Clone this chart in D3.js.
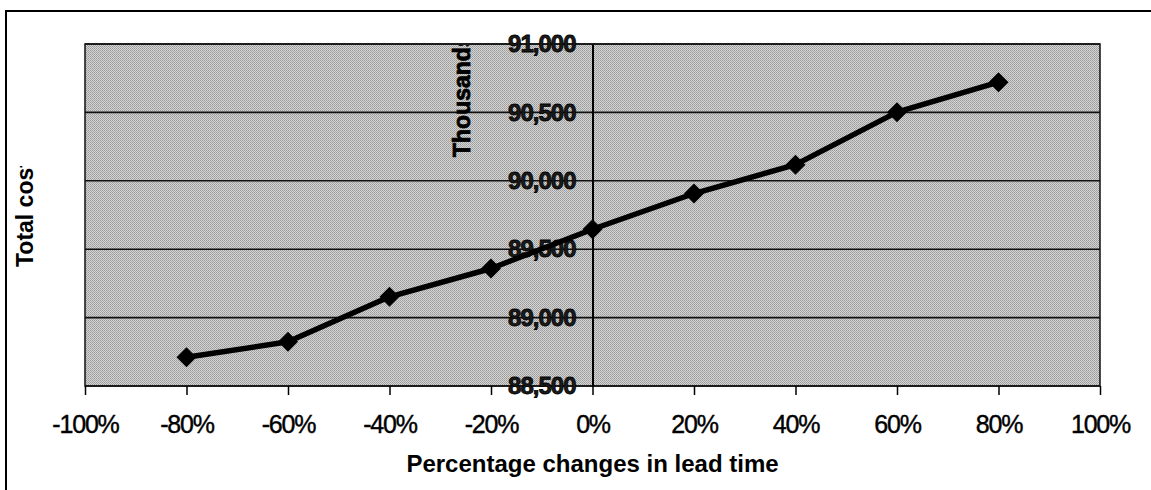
<!DOCTYPE html>
<html>
<head>
<meta charset="utf-8">
<script src="https://cdn.jsdelivr.net/npm/d3@7"></script>
<style>
  html, body { margin: 0; padding: 0; background: #fff; }
  text { font-family: "Liberation Sans", Arial, sans-serif; }
</style>
</head>
<body>
<svg id="chart" width="1151" height="490"></svg>
<script>
// lead time change (%) vs total cost (thousands)
const leadChange = [-80, -60, -40, -20, 0, 20, 40, 60, 80];
const totalCost = [88710, 88823, 89152, 89359, 89646, 89907, 90118, 90502, 90721];
const xTicks = [-100, -80, -60, -40, -20, 0, 20, 40, 60, 80, 100];
const yTicks = [88500, 89000, 89500, 90000, 90500, 91000];

const svg = d3.select('#chart');
const plot = { left: 85, right: 1100, top: 44, bottom: 386 };

const xScale = d3.scaleLinear().domain([-100, 100]).range([plot.left, plot.right]);
const yScale = d3.scaleLinear().domain([88500, 91000]).range([plot.bottom, plot.top]);

// outer frame, only the left and top edges show in the window
svg.append('rect')
	.attr('x', 6).attr('y', 11)
	.attr('width', 1200).attr('height', 600)
	.attr('fill', 'none').attr('stroke', '#000').attr('stroke-width', 2);

// halftone-ish grey plot area
const defs = svg.append('defs');
const pat = defs.append('pattern')
	.attr('id', 'dither').attr('width', 2).attr('height', 2)
	.attr('patternUnits', 'userSpaceOnUse');
pat.append('rect').attr('width', 2).attr('height', 2).attr('fill', '#d4d4d4');
pat.append('rect').attr('width', 1).attr('height', 1).attr('fill', '#9a9a9a');
pat.append('rect').attr('x', 1).attr('y', 1).attr('width', 1).attr('height', 1).attr('fill', '#a8a8a8');

svg.append('rect')
	.attr('x', plot.left).attr('y', plot.top)
	.attr('width', plot.right - plot.left).attr('height', plot.bottom - plot.top)
	.attr('fill', 'url(#dither)');

// horizontal gridlines
svg.append('g')
	.selectAll('line')
	.data(yTicks)
	.join('line')
	.attr('x1', plot.left).attr('x2', plot.right)
	.attr('y1', d => yScale(d)).attr('y2', d => yScale(d))
	.attr('stroke', '#111').attr('stroke-width', 1.6);

// plot border
svg.append('rect')
	.attr('x', plot.left).attr('y', plot.top)
	.attr('width', plot.right - plot.left).attr('height', plot.bottom - plot.top)
	.attr('fill', 'none').attr('stroke', '#111').attr('stroke-width', 1.5);

// x axis along the bottom
const xAxis = d3.axisBottom(xScale)
	.tickValues(xTicks)
	.tickSize(9)
	.tickPadding(20)
	.tickFormat(d => d + '%');

svg.append('g')
	.attr('class', 'x axis')
	.attr('transform', `translate(0,${plot.bottom})`)
	.call(xAxis);

svg.select('.x.axis').selectAll('.domain').remove();
svg.select('.x.axis').selectAll('.tick line').attr('stroke', '#000').attr('stroke-width', 1.5);
svg.select('.x.axis').selectAll('.tick text')
	.attr('fill', '#000')
	.attr('stroke', '#000').attr('stroke-width', 0.4)
	.style('font-size', '25px')
	.style('letter-spacing', '-1.2px')
	.style('font-family', '"Liberation Sans", Arial, sans-serif');

// y axis crosses at 0%
const yAxis = d3.axisLeft(yScale)
	.tickValues(yTicks)
	.tickSize(0)
	.tickPadding(17)
	.tickFormat(d3.format(','));

svg.append('g')
	.attr('class', 'y axis')
	.attr('transform', `translate(${xScale(0)},0)`)
	.call(yAxis);

svg.select('.y.axis').selectAll('.domain').attr('stroke', '#000').attr('stroke-width', 2);
svg.select('.y.axis').selectAll('.tick text')
	.attr('fill', '#1a1a1a')
	.attr('stroke', '#000').attr('stroke-width', 0.8)
	.style('font-size', '24px')
	.style('font-weight', 'bold')
	.style('letter-spacing', '-1px')
	.style('font-family', '"Liberation Sans", Arial, sans-serif');

// the series
const line = d3.line()
	.x((d, i) => xScale(leadChange[i]))
	.y(d => yScale(d));

svg.append('path')
	.datum(totalCost)
	.attr('d', line)
	.attr('fill', 'none')
	.attr('stroke', '#000')
	.attr('stroke-width', 5.5)
	.attr('stroke-linejoin', 'round');

svg.append('g')
	.selectAll('path')
	.data(totalCost)
	.join('path')
	.attr('d', d3.symbol(d3.symbolSquare, 200))
	.attr('transform', (d, i) => `translate(${xScale(leadChange[i])},${yScale(d)}) rotate(45)`)
	.attr('fill', '#000');

// axis titles, clipped the way the original crops them
defs.append('clipPath').attr('id', 'clipLeft')
	.append('rect').attr('x', 0).attr('y', 166).attr('width', 60).attr('height', 200);
defs.append('clipPath').attr('id', 'clipThou')
	.append('rect').attr('x', 430).attr('y', plot.top + 1).attr('width', 60).attr('height', 200);

svg.append('g')
	.attr('clip-path', 'url(#clipLeft)')
	.append('text')
	.attr('transform', 'translate(33,267) rotate(-90)')
	.style('font-size', '23px')
	.style('font-weight', 'bold')
	.attr('fill', '#000')
	.text('Total cost');

svg.append('g')
	.attr('clip-path', 'url(#clipThou)')
	.append('text')
	.attr('transform', 'translate(470,157) rotate(-90)')
	.style('font-size', '23px')
	.style('font-weight', 'bold')
	.attr('fill', '#000')
	.attr('stroke', '#000').attr('stroke-width', 0.8)
	.text('Thousands');

svg.append('text')
	.attr('x', xScale(0)).attr('y', 472)
	.attr('text-anchor', 'middle')
	.style('font-size', '24px')
	.style('font-weight', 'bold')
	.attr('fill', '#000')
	.text('Percentage changes in lead time');
</script>
</body>
</html>
